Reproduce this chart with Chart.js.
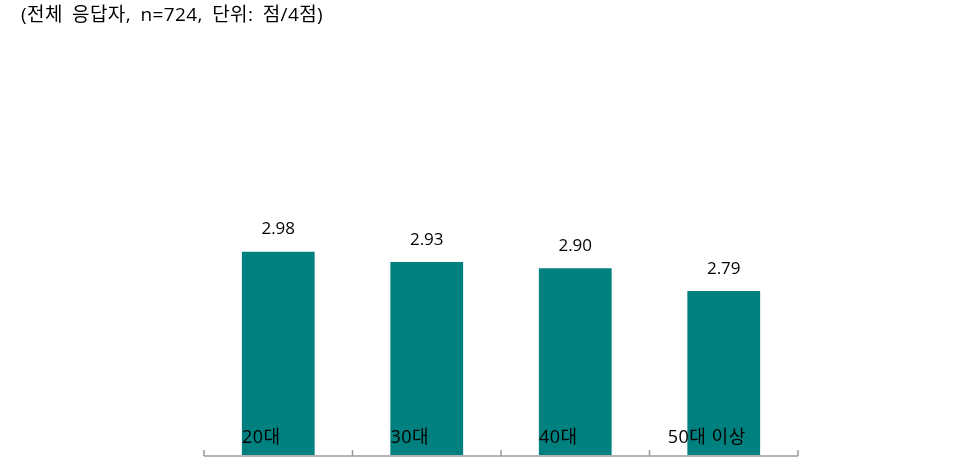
<!DOCTYPE html>
<html>
<head>
<meta charset="utf-8">
<script src="https://cdn.jsdelivr.net/npm/chart.js@4"></script>
<style>
  html, body { margin: 0; padding: 0; background: #fff; }
  #wrap { width: 962px; height: 462px; }
</style>
</head>
<body>
<div id="wrap"><canvas id="ages"></canvas></div>
<script>
const title_text = '(전체 응답자, n=724, 단위: 점/4점)';
const age_groups = ['20대', '30대', '40대', '50대 이상'];
const scores = [2.98, 2.93, 2.90, 2.79];

const font_family = '"Open Sans", "Noto Sans CJK KR", sans-serif';

// labels, axis line and title are drawn by hand
const extras = {
  id: 'extras',
  afterDatasetsDraw(chart) {
    const ctx = chart.ctx;
    const x = chart.scales.x;
    const area = chart.chartArea;
    const step = x.width / age_groups.length;
    ctx.save();

    // axis line with upward ticks
    ctx.strokeStyle = '#9a9a9a';
    ctx.lineWidth = 1.5;
    ctx.beginPath();
    ctx.moveTo(area.left, area.bottom + 1);
    ctx.lineTo(area.right, area.bottom + 1);
    for (let i = 0; i <= age_groups.length; i++) {
      const px = x.left + step * i;
      ctx.moveTo(px, area.bottom + 1);
      ctx.lineTo(px, area.bottom - 5);
    }
    ctx.stroke();

    ctx.fillStyle = '#000';
    ctx.font = '17px ' + font_family;
    ctx.textAlign = 'center';
    ctx.textBaseline = 'middle';

    // value labels
    const meta = chart.getDatasetMeta(0);
    meta.data.forEach((bar, i) => {
      ctx.fillText(scores[i].toFixed(2), bar.x, bar.y - 22);
    });

    // category labels, sitting inside the bars
    ctx.font = '18px ' + font_family;
    ctx.letterSpacing = '0.5px';
    age_groups.forEach((g, i) => {
      ctx.fillText(g, x.getPixelForValue(i) - 17, area.bottom - 17);
    });

    // title
    ctx.font = '19px ' + font_family;
    ctx.textAlign = 'left';
    ctx.letterSpacing = '0.4px';
    ctx.wordSpacing = '4px';
    ctx.fillText(title_text, 21, 16);
    ctx.restore();
  }
};

new Chart(document.getElementById('ages'), {
  type: 'bar',
  data: {
    labels: age_groups,
    datasets: [{
      data: scores,
      backgroundColor: '#00807f',
      barPercentage: 0.49,
      categoryPercentage: 1
    }]
  },
  options: {
    responsive: true,
    maintainAspectRatio: false,
    animation: false,
    layout: { padding: { left: 204, right: 164, top: 40, bottom: 7 } },
    plugins: { legend: { display: false }, tooltip: { enabled: false } },
    scales: {
      x: { display: false },
      y: { display: false, min: 2, max: 4 }
    }
  },
  plugins: [extras]
});
</script>
</body>
</html>
